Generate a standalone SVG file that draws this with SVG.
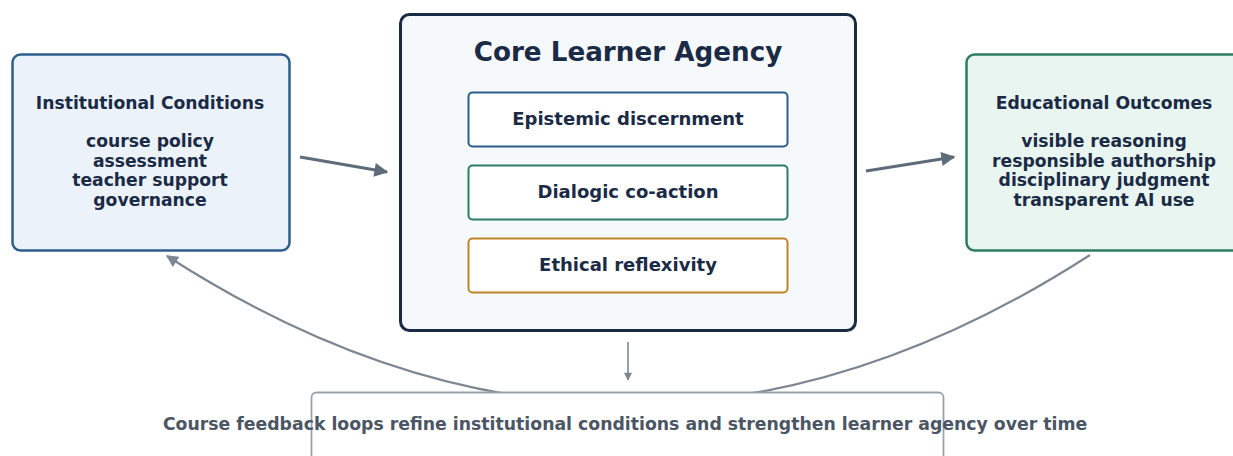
<svg xmlns="http://www.w3.org/2000/svg" width="1233" height="456" viewBox="0 0 1233 456">
  <defs>
    <style>
      text { font-family: "DejaVu Sans", "Verdana", sans-serif; font-weight: bold; fill: #1b2a45; text-anchor: middle; }
      .side { font-size: 17.2px; }
      .title { font-size: 26.2px; }
      .pill { font-size: 18px; }
      .note { font-size: 17.3px; fill: #4b5563; }
      .flow { stroke: #5e6b79; stroke-width: 3; fill: none; }
      .loop { stroke: #7d8792; stroke-width: 2.2; fill: none; }
      .down { stroke: #7d8792; stroke-width: 1.6; fill: none; }
    </style>
    <marker id="headFlowBig" viewBox="0 0 10 10" refX="9" refY="5" markerWidth="18" markerHeight="14" markerUnits="userSpaceOnUse" orient="auto">
      <path d="M0,0 L10,5 L0,10 z" fill="#5e6b79"/>
    </marker>
    <marker id="headLoop" viewBox="0 0 10 10" refX="9" refY="5" markerWidth="16" markerHeight="12" markerUnits="userSpaceOnUse" orient="auto">
      <path d="M0,0 L10,5 L0,10 z" fill="#7d8792"/>
    </marker>
    <marker id="headDown" viewBox="0 0 10 10" refX="9" refY="5" markerWidth="10" markerHeight="8" markerUnits="userSpaceOnUse" orient="auto">
      <path d="M0,0 L10,5 L0,10 z" fill="#7d8792"/>
    </marker>
  </defs>

  <rect width="1233" height="456" fill="#ffffff"/>

  <!-- connectors -->
  <g id="connectors">
    <path class="loop" d="M1090,255 Q628,553 167,256" marker-end="url(#headLoop)"/>
    <line class="flow" x1="300" y1="157" x2="387" y2="172" marker-end="url(#headFlowBig)"/>
    <line class="flow" x1="866" y1="171" x2="954" y2="157" marker-end="url(#headFlowBig)"/>
    <line class="down" x1="628" y1="342" x2="628" y2="380" marker-end="url(#headDown)"/>
  </g>

  <!-- left: institutional conditions -->
  <g id="institutional">
    <rect x="12.5" y="54.5" width="277" height="196" rx="8" fill="#ebf2fa" stroke="#2f5d8c" stroke-width="2.5"/>
    <text class="side" x="150" y="109">Institutional Conditions</text>
    <text class="side" x="150" y="147">course policy</text>
    <text class="side" x="150" y="166.5">assessment</text>
    <text class="side" x="150" y="186">teacher support</text>
    <text class="side" x="150" y="205.5">governance</text>
  </g>

  <!-- centre: core learner agency -->
  <g id="core">
    <rect x="400.5" y="14.5" width="455" height="316" rx="9" fill="#f5f9fc" stroke="#1b2a45" stroke-width="3"/>
    <text class="title" x="628" y="61">Core Learner Agency</text>
  </g>
  <g id="epistemic">
    <rect x="468.5" y="92.5" width="319" height="54" rx="4" fill="#ffffff" stroke="#2f5d8c" stroke-width="2"/>
    <text class="pill" x="628" y="125">Epistemic discernment</text>
  </g>
  <g id="dialogic">
    <rect x="468.5" y="165.5" width="319" height="54" rx="4" fill="#ffffff" stroke="#2e7d62" stroke-width="2"/>
    <text class="pill" x="628" y="198">Dialogic co-action</text>
  </g>
  <g id="ethical">
    <rect x="468.5" y="238.5" width="319" height="54" rx="4" fill="#ffffff" stroke="#c0832a" stroke-width="2"/>
    <text class="pill" x="628" y="271">Ethical reflexivity</text>
  </g>

  <!-- right: educational outcomes -->
  <g id="outcomes">
    <rect x="966.5" y="54.5" width="277" height="196" rx="8" fill="#e8f5f0" stroke="#2e7d62" stroke-width="2.5"/>
    <text class="side" x="1104" y="109">Educational Outcomes</text>
    <text class="side" x="1104" y="147">visible reasoning</text>
    <text class="side" x="1104" y="166.5">responsible authorship</text>
    <text class="side" x="1104" y="186">disciplinary judgment</text>
    <text class="side" x="1104" y="205.5">transparent AI use</text>
  </g>

  <!-- bottom: feedback note -->
  <g id="feedback">
    <rect x="311.5" y="392.5" width="632" height="90" rx="5" fill="#ffffff" stroke="#9aa3ad" stroke-width="1.8"/>
    <text class="note" x="625" y="430">Course feedback loops refine institutional conditions and strengthen learner agency over time</text>
  </g>
</svg>
